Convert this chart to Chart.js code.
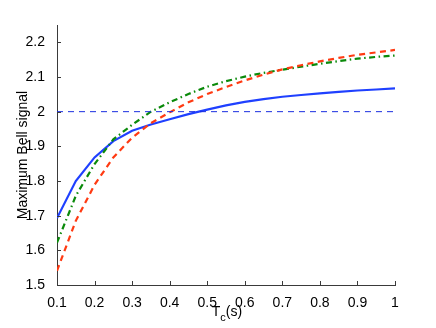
<!DOCTYPE html>
<html>
<head>
<meta charset="utf-8">
<script src="https://cdn.jsdelivr.net/npm/chart.js@4"></script>
<style>
html,body{margin:0;padding:0;background:#fff;}
#wrap{width:436px;height:328px;}
</style>
</head>
<body>
<div id="wrap"><canvas id="c" width="436" height="328"></canvas></div>
<script>
const tc = [0.1,0.15,0.2,0.25,0.3,0.35,0.4,0.45,0.5,0.55,0.6,0.65,0.7,0.75,0.8,0.85,0.9,0.95,1.0];
const blueSolid = [1.693,1.800,1.868,1.915,1.945,1.963,1.978,1.993,2.006,2.018,2.028,2.036,2.043,2.048,2.053,2.057,2.061,2.064,2.067];
const redDashed = [1.541,1.685,1.789,1.868,1.925,1.967,1.998,2.027,2.051,2.071,2.090,2.107,2.122,2.134,2.145,2.155,2.164,2.171,2.178];
const greenDashDot = [1.622,1.757,1.849,1.920,1.962,2.000,2.027,2.051,2.072,2.088,2.101,2.112,2.121,2.130,2.138,2.146,2.153,2.158,2.162];
const refLine = [2.0, 2.0];
const refX = [0.1, 1.0];
const xTicks = [0.1,0.2,0.3,0.4,0.5,0.6,0.7,0.8,0.9,1];
const yTicks = [1.5,1.6,1.7,1.8,1.9,2.0,2.1,2.2];
const yLabel = 'Maximum Bell signal';
const xLabelMain = 'T', xLabelSub = 'c', xLabelRest = '(s)';

const FONT = '"Liberation Sans", Arial, sans-serif';
const pts = (xs, ys) => xs.map((x, i) => ({x: x, y: ys[i]}));

const decor = {
  id: 'decor',
  afterDraw(chart) {
    const ctx = chart.ctx;
    const xs = chart.scales.x, ys = chart.scales.y;
    const ca = chart.chartArea;
    ctx.save();
    ctx.strokeStyle = '#3a3a3a';
    ctx.lineWidth = 1;
    ctx.beginPath();
    xTicks.forEach(v => {
      const px = Math.round(xs.getPixelForValue(v)) + 0.5;
      ctx.moveTo(px, ca.bottom); ctx.lineTo(px, ca.bottom - 4);
    });
    yTicks.forEach(v => {
      const py = Math.round(ys.getPixelForValue(v)) + 0.5;
      ctx.moveTo(ca.left, py); ctx.lineTo(ca.left + 4, py);
    });
    ctx.stroke();
    ctx.fillStyle = '#000';
    ctx.textBaseline = 'alphabetic';
    ctx.font = '14px ' + FONT;
    const wT = ctx.measureText(xLabelMain).width;
    ctx.font = '11px ' + FONT;
    const wC = ctx.measureText(xLabelSub).width;
    ctx.font = '14px ' + FONT;
    const wR = ctx.measureText(xLabelRest).width;
    const total = wT + wC + wR;
    const x0 = (ca.left + ca.right) / 2 - total / 2 + 1;
    const base = 316;
    ctx.textAlign = 'left';
    ctx.fillText(xLabelMain, x0, base);
    ctx.font = '11px ' + FONT;
    ctx.fillText(xLabelSub, x0 + wT, base + 5);
    ctx.font = '14px ' + FONT;
    ctx.fillText(xLabelRest, x0 + wT + wC, base);
    ctx.translate(27, (ca.top + ca.bottom) / 2);
    ctx.rotate(-Math.PI / 2);
    ctx.textAlign = 'center';
    ctx.fillText(yLabel, 0, 0);
    ctx.restore();
  }
};

new Chart(document.getElementById('c'), {
  type: 'line',
  data: {
    datasets: [
      {data: pts(refX, refLine), borderColor: '#1a2ee0', borderWidth: 1, borderDash: [6, 5], pointRadius: 0, tension: 0},
      {data: pts(tc, redDashed), borderColor: '#ff3a12', borderWidth: 2.2, borderDash: [6, 4.5], pointRadius: 0, tension: 0},
      {data: pts(tc, greenDashDot), borderColor: '#0a8a0a', borderWidth: 2.2, borderDash: [6, 3.5, 1.5, 3.5], pointRadius: 0, tension: 0},
      {data: pts(tc, blueSolid), borderColor: '#1f40ff', borderWidth: 2.2, pointRadius: 0, tension: 0}
    ]
  },
  options: {
    responsive: false,
    animation: false,
    events: [],
    layout: {padding: {left: 0, right: 41, top: 25, bottom: 0}},
    plugins: {legend: {display: false}, tooltip: {enabled: false}},
    scales: {
      x: {
        type: 'linear', min: 0.1, max: 1.0,
        afterFit(s) { s.height = 43; },
        afterBuildTicks(s) { s.ticks = xTicks.map(v => ({value: v})); },
        border: {display: true, color: '#3a3a3a', width: 1},
        grid: {display: false},
        ticks: {color: '#000', font: {family: FONT, size: 14}, padding: 2, maxRotation: 0,
                callback: v => String(Math.round(v * 10) / 10)}
      },
      y: {
        type: 'linear', min: 1.5, max: 2.25,
        afterFit(s) { s.width = 57; },
        afterBuildTicks(s) { s.ticks = yTicks.map(v => ({value: v})); },
        border: {display: true, color: '#3a3a3a', width: 1},
        grid: {display: false},
        ticks: {color: '#000', font: {family: FONT, size: 14}, padding: 4,
                callback: v => String(Math.round(v * 10) / 10)}
      }
    }
  },
  plugins: [decor]
});
</script>
</body>
</html>
